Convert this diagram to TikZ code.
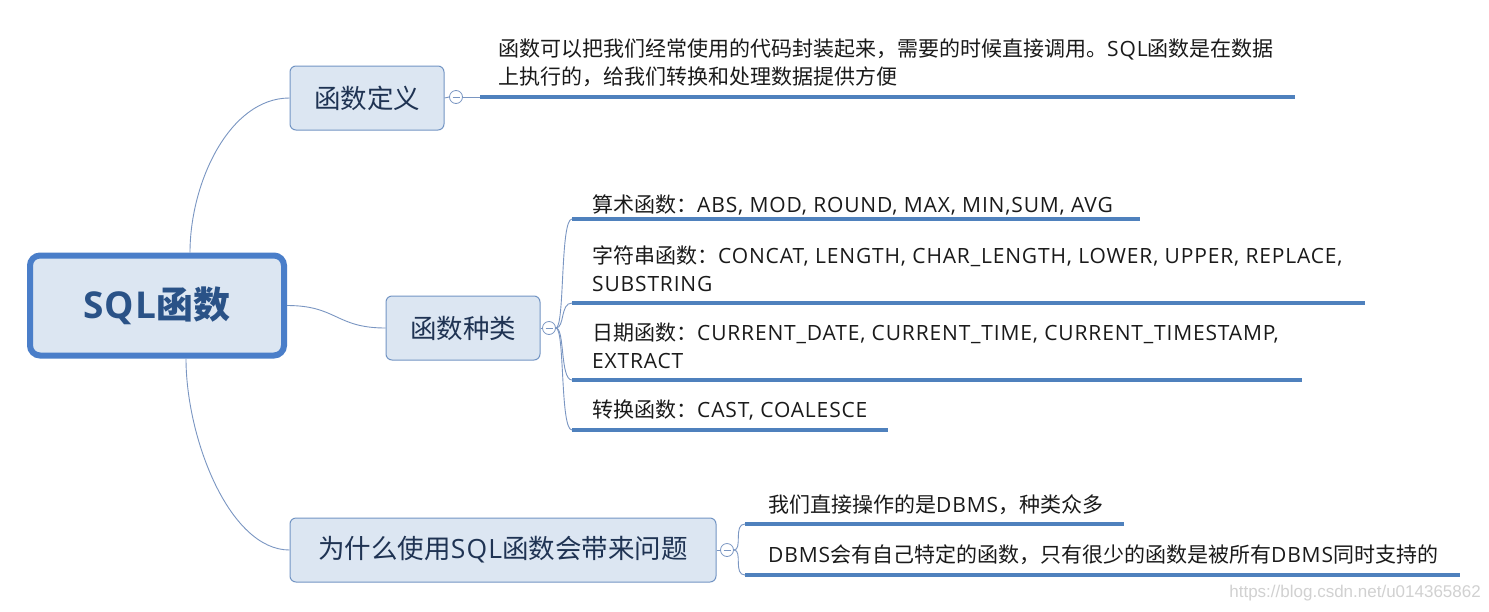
\documentclass[tikz,border=0pt]{standalone}
\usepackage{fontspec}
\setmainfont{Noto Sans CJK SC}
\newfontfamily\lat[LetterSpace=4]{Open Sans}
\newfontfamily\wmfont{Liberation Sans}
\begin{document}
\begin{tikzpicture}[x=1pt,y=-1pt,
  conn/.style={draw=connblue, line width=0.9pt},
  thickline/.style={draw=lineblue, line width=3.2pt},
  mainbox/.style={draw=boxborder, fill=boxfill, rounded corners=6pt, line width=1pt, minimum height=64pt, inner xsep=10pt, text=boxtext, font=\fontsize{26.5}{30}\selectfont},
  collapse/.style={circle, draw=connblue, fill=white, line width=0.8pt, minimum size=13pt, inner sep=0pt},
  leaf/.style={anchor=west, align=left, text=leaftext, inner sep=0pt, font=\fontsize{21}{28}\selectfont},
]
\definecolor{connblue}{HTML}{7A96C2}
\definecolor{lineblue}{HTML}{4F81BD}
\definecolor{boxborder}{HTML}{7395C4}
\definecolor{boxfill}{HTML}{DCE6F2}
\definecolor{boxtext}{HTML}{1F3353}
\definecolor{rootborder}{HTML}{4A7EC9}
\definecolor{roottext}{HTML}{2A5287}
\definecolor{leaftext}{HTML}{1A1A1A}
\useasboundingbox (0,0) rectangle (1489,611);
\fill[white] (0,0) rectangle (1489,611);

% root
\node[draw=rootborder, fill=boxfill, line width=6pt, rounded corners=10pt,
  minimum width=254pt, minimum height=100pt, text=roottext,
  font=\fontsize{37}{40}\selectfont\bfseries] (root) at (157,305.5) {{\lat SQL}函数};

% main branches
\node[mainbox, minimum width=154pt] (def) at (367,98) {函数定义};
\node[mainbox, minimum width=154pt] (kind) at (463,328) {函数种类};
\node[mainbox, minimum width=426pt] (why) at (503,550) {为什么使用{\lat SQL}函数会带来问题};

\draw[conn] ([xshift=33pt]root.north) .. controls +(0,-70) and +(-60,0) .. (def.west);
\draw[conn] (root.east) .. controls +(50,0) and +(-50,0) .. (kind.west);
\draw[conn] ([xshift=29pt]root.south) .. controls +(0,80) and +(-60,0) .. (why.west);

% collapse markers
\node[collapse] (c1) at (456,97) {};
\node[collapse] (c2) at (549,328) {};
\node[collapse] (c3) at (727,550) {};
\foreach \c in {c1,c2,c3} {\draw[connblue, line width=0.8pt] ([xshift=-3.5pt]\c.center) -- ([xshift=3.5pt]\c.center);}
\draw[conn] (def.east) -- (c1.west);
\draw[conn] (kind.east) -- (c2.west);
\draw[conn] (why.east) -- (c3.west);

% definition branch
\coordinate (d1s) at (480,97);
\coordinate (d1e) at (1295,97);
\draw[conn] (c1.east) -- (d1s);
\draw[thickline] (d1s) -- (d1e);
\node[leaf] (dtext) at (498,62.5) {函数可以把我们经常使用的代码封装起来，需要的时候直接调用。{\lat SQL}函数是在数据\\上执行的，给我们转换和处理数据提供方便};

% kinds branch
\coordinate (k1s) at (572,219);  \coordinate (k1e) at (1140,219);
\coordinate (k2s) at (572,303);  \coordinate (k2e) at (1365,303);
\coordinate (k3s) at (572,380);  \coordinate (k3e) at (1302,380);
\coordinate (k4s) at (572,430);  \coordinate (k4e) at (888,430);
\foreach \s/\e in {k1s/k1e,k2s/k2e,k3s/k3e,k4s/k4e} {
  \draw[conn] (c2.east) .. controls +(9,0) and +(-12,0) .. (\s);
  \draw[thickline] (\s) -- (\e);
}
\node[leaf] (kt1) at (592,205) {算术函数：{\lat ABS, MOD, ROUND, MAX, MIN,SUM, AVG}};
\node[leaf] (kt2) at (592,269) {字符串函数：{\lat CONCAT, LENGTH, CHAR\_LENGTH, LOWER, UPPER, REPLACE,}\\{\lat SUBSTRING}};
\node[leaf] (kt3) at (592,346) {日期函数：{\lat CURRENT\_DATE, CURRENT\_TIME, CURRENT\_TIMESTAMP,}\\{\lat EXTRACT}};
\node[leaf] (kt4) at (592,410) {转换函数：{\lat CAST, COALESCE}};

% why branch
\coordinate (w1s) at (745,524);  \coordinate (w1e) at (1124,524);
\coordinate (w2s) at (745,575);  \coordinate (w2e) at (1460,575);
\foreach \s/\e in {w1s/w1e,w2s/w2e} {
  \draw[conn] (c3.east) .. controls +(9,0) and +(-12,0) .. (\s);
  \draw[thickline] (\s) -- (\e);
}
\node[leaf] (wt1) at (768,505) {我们直接操作的是{\lat DBMS}，种类众多};
\node[leaf] (wt2) at (768,555) {{\lat DBMS}会有自己特定的函数，只有很少的函数是被所有{\lat DBMS}同时支持的};

% watermark
\node[anchor=east, text=black!18, font=\wmfont\fontsize{17}{20}\selectfont, inner sep=0pt] (wm) at (1481,593) {https://blog.csdn.net/u014365862};
\end{tikzpicture}
\end{document}
